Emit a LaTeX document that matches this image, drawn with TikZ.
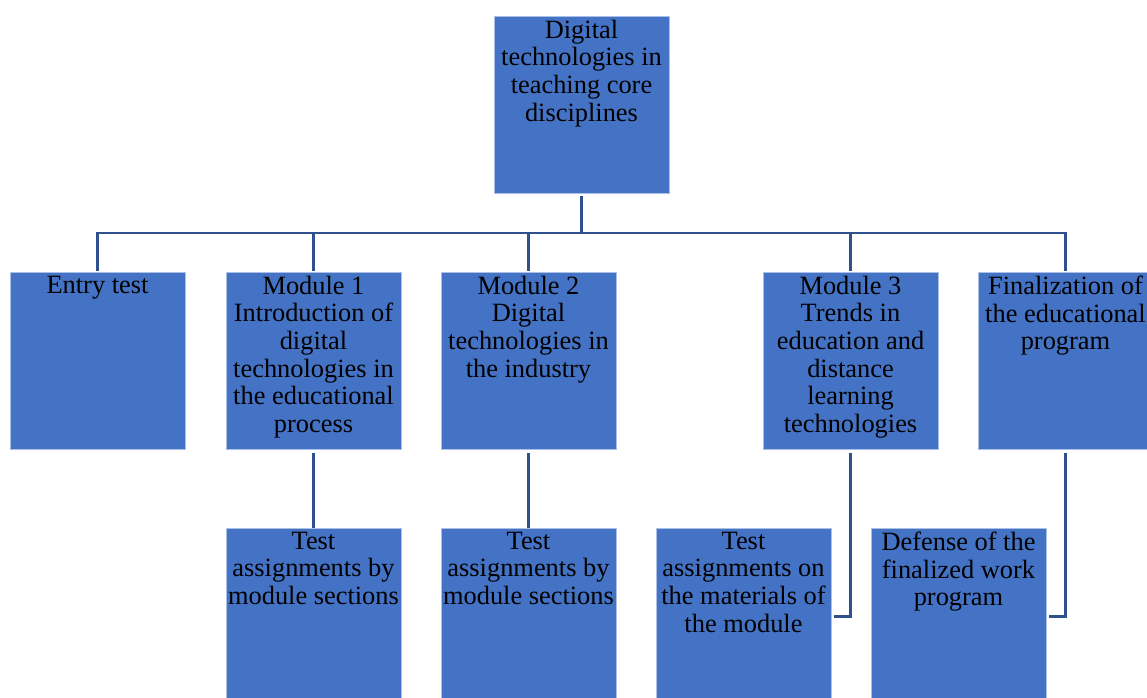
\documentclass[tikz,border=0pt]{standalone}
\usepackage{fontspec}
\setmainfont{Liberation Serif}
\usepackage{tikz}
\usetikzlibrary{positioning}

\definecolor{boxblue}{RGB}{68,114,196}
\definecolor{boxedge}{RGB}{170,192,230}
\definecolor{linkblue}{RGB}{47,82,143}

\begin{document}
\begin{tikzpicture}[x=0.75pt, y=-0.75pt,
    block/.style={rectangle, fill=boxblue, draw=boxedge, line width=0.6pt, inner sep=0pt, outer sep=0pt,
      minimum width=131.25pt, minimum height=132.75pt,
      font=\fontsize{19.8}{20.7}\selectfont,
      execute at begin node={\begin{minipage}[t][132.75pt][t]{130pt}\centering\vspace{3pt}},
      execute at end node={\end{minipage}}},
    link/.style={draw=linkblue, line width=2.1pt}]

  \useasboundingbox (0,0) rectangle (1147,698);
  \clip (0,0) rectangle (1147,698);

  % Define nodes
  \node[block] (top) at (581.5,104.5) {Digital\\technologies in\\teaching core\\disciplines};
  \node[block] (entry) at (97.5,360.5) {Entry test};
  \node[block, right=30.75pt of entry] (mod1) {Module 1\\Introduction of\\digital\\technologies in\\the educational\\process};
  \node[block, right=30pt of mod1] (mod2) {Module 2\\Digital\\technologies in\\the industry};
  \node[block, right=110.25pt of mod2] (mod3) {Module 3\\Trends in\\education and\\distance\\learning\\technologies};
  \node[block, right=30pt of mod3] (final) {Finalization of\\the educational\\program};

  \node[block, below=59.25pt of mod1] (test1) {Test\\assignments by\\module sections};
  \node[block, below=59.25pt of mod2] (test2) {Test\\assignments by\\module sections};
  \node[block] (test3) at (743.5,616.5) {Test\\assignments on\\the materials of\\the module};
  \node[block, right=30pt of test3] (defense) {Defense of the\\finalized work\\program};

  \coordinate (bar) at (581.5,233);

  % Connect the nodes
  \draw[link] ([yshift=-2pt]top.south) -- (bar);
  \draw[link] ([yshift=1pt]entry.north) |- (bar) -| ([yshift=1pt]final.north);
  \draw[link] ([yshift=1pt]mod1.north) -- (mod1.north |- bar);
  \draw[link] ([yshift=1pt]mod2.north) -- (mod2.north |- bar);
  \draw[link] ([yshift=1pt]mod3.north) -- (mod3.north |- bar);

  \draw[link] ([yshift=-3pt]mod1.south) -- (test1.north);
  \draw[link] ([yshift=-3pt]mod2.south) -- (test2.north);
  \draw[link] ([yshift=-3pt]mod3.south) |- ([xshift=2pt]test3.east);
  \draw[link] ([yshift=-3pt]final.south) |- ([xshift=2pt]defense.east);

\end{tikzpicture}
\end{document}
